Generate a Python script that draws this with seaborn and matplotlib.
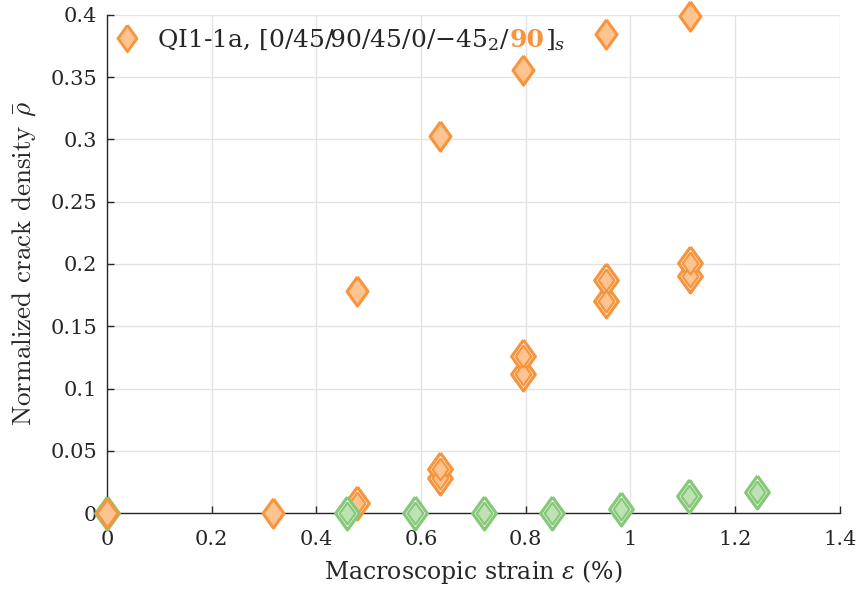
import matplotlib
matplotlib.use('Agg')
import matplotlib.pyplot as plt
import seaborn as sns
import numpy as np
import pandas as pd
from matplotlib.markers import MarkerStyle

# ---------------- data ----------------
orange_single_x = [0.0, 0.318, 0.477, 0.636, 0.795, 0.954, 1.113]
orange_single_y = [0.0, 0.0, 0.178, 0.303, 0.356, 0.385, 0.399]
orange_double_x = [0.477, 0.636, 0.636, 0.795, 0.795, 0.954, 0.954, 1.113, 1.113]
orange_double_y = [0.008, 0.028, 0.035, 0.112, 0.126, 0.170, 0.187, 0.190, 0.201]
green_x = [0.0, 0.458, 0.588, 0.72, 0.85, 0.982, 1.112, 1.241]
green_y = [0.0, 0.0, 0.0, 0.0, 0.0, 0.003, 0.014, 0.017]
x_ticks = [0, 0.2, 0.4, 0.6, 0.8, 1.0, 1.2, 1.4]
x_tick_labels = ['0', '0.2', '0.4', '0.6', '0.8', '1', '1.2', '1.4']
y_ticks = [0, 0.05, 0.1, 0.15, 0.2, 0.25, 0.3, 0.35, 0.4]
y_tick_labels = ['0', '0.05', '0.1', '0.15', '0.2', '0.25', '0.3', '0.35', '0.4']

O_EDGE = '#F7943C'
O_FACE = '#FDC391'
G_EDGE = '#86C878'
G_FACE = '#BEE2B4'
TXT = '#262626'

sns.set_theme(style='white')
plt.rcParams['font.family'] = ['DejaVu Serif']
plt.rcParams['mathtext.fontset'] = 'dejavuserif'

fig = plt.figure(figsize=(8.56, 5.9), dpi=100)
ax = fig.add_axes([0.125, 0.1305, 0.856, 0.8441])

verts = [(0, 1), (0.72, 0), (0, -1), (-0.72, 0), (0, 1)]
dm = MarkerStyle(verts, joinstyle='miter')

od = pd.DataFrame({'x': orange_double_x, 'y': orange_double_y})
gd = pd.DataFrame({'x': green_x, 'y': green_y})
osd = pd.DataFrame({'x': orange_single_x, 'y': orange_single_y})

def double(df, edge, face, z):
    sns.scatterplot(data=df, x='x', y='y', marker=dm, s=560, facecolor='white',
                    edgecolor=edge, linewidth=2.3, ax=ax, clip_on=False, zorder=z)
    sns.scatterplot(data=df, x='x', y='y', marker=dm, s=250, facecolor=face,
                    edgecolor=edge, linewidth=1.6, ax=ax, clip_on=False, zorder=z + 0.1)

double(od, O_EDGE, O_FACE, 3)
double(gd, G_EDGE, G_FACE, 4)
sns.scatterplot(data=osd, x='x', y='y', marker=dm, s=440, facecolor=O_FACE,
                edgecolor=O_EDGE, linewidth=2.2, ax=ax, clip_on=False, zorder=5)

ax.set_xlim(0, 1.4)
ax.set_ylim(0, 0.4)
ax.set_xticks(x_ticks)
ax.set_xticklabels(x_tick_labels)
ax.set_yticks(y_ticks)
ax.set_yticklabels(y_tick_labels)
ax.grid(True, color='#E3E3E3', linewidth=1.0)
ax.set_axisbelow(True)
for s in ['top', 'right']:
    ax.spines[s].set_visible(False)
for s in ['left', 'bottom']:
    ax.spines[s].set_color(TXT)
    ax.spines[s].set_linewidth(1.0)
ax.tick_params(direction='in', length=5, width=1.0, colors=TXT, labelsize=15,
               left=True, bottom=True)
ax.tick_params(axis='y', pad=7)
ax.tick_params(axis='x', pad=12)

ax.set_xlabel(r'Macroscopic strain $\epsilon$ (%)', fontsize=17, color=TXT, labelpad=7)
ax.set_ylabel(r'Normalized crack density $\bar{\rho}$', fontfamily='cmr10',
              math_fontfamily='cm', fontsize=19.5, color=TXT, labelpad=9)

# ---------------- legend (manual, with coloured bold part) ----------------
fig.canvas.draw()
renderer = fig.canvas.get_renderer()
H = fig.bbox.height
W = fig.bbox.width

def row(x0_px, base_px, pieces):
    x = x0_px
    for txt, kw in pieces:
        t = fig.text(x / W, 1 - base_px / H, txt, va='baseline', ha='left',
                     fontsize=18, color=kw.get('color', TXT),
                     fontweight=kw.get('weight', 'normal'))
        bb = t.get_window_extent(renderer)
        x += bb.width

def leg_marker(xc, yc, edge, face):
    ax.plot([xc], [yc], transform=fig.transFigure, marker=dm, markersize=19,
            markerfacecolor=face, markeredgecolor=edge, markeredgewidth=2.0,
            linestyle='none', clip_on=False)

leg_marker(127 / W, 1 - 38 / H, O_EDGE, O_FACE)
row(157, 47, [('QI1-1a, [0/45/90/45/0/\u221245$_2$/', {}),
              ('90', {'color': O_EDGE, 'weight': 'bold'}),
              (']$_s$', {})])

fig.savefig('out.png', dpi=100)
